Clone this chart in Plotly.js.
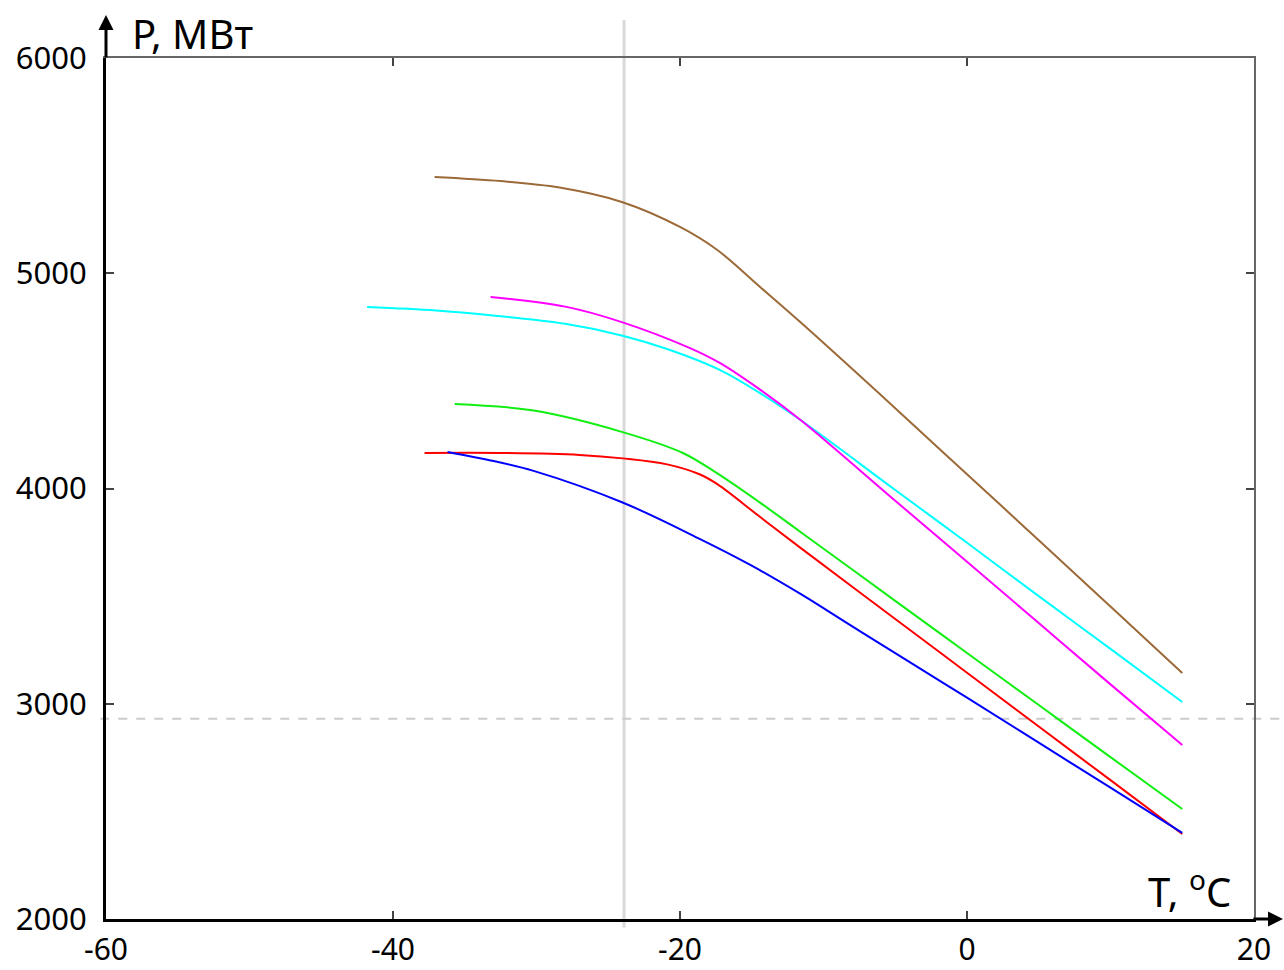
<!DOCTYPE html>
<html>
<head>
<meta charset="utf-8">
<script src="https://cdn.plot.ly/plotly-3.0.1.min.js"></script>
<style>html,body{margin:0;padding:0;background:#fff;}#chart{width:1284px;height:970px;}</style>
</head>
<body>
<div id="chart"></div>
<script>
// Temperature (°C) and power (MW)
const brownT = [-37.1, -32.5, -28.4, -24.0, -20.0, -17.4, -14.4, -11.6, -5.0, 0.0, 5.0, 10.0, 15.0];
const brownP = [5447, 5428, 5398, 5330, 5215, 5108, 4935, 4772, 4373, 4066, 3760, 3452, 3143];

const cyanT = [-41.8, -37.0, -33.2, -28.0, -24.0, -20.9, -17.2, -14.4, -11.6, -5.0, 0.0, 5.0, 10.0, 15.0];
const cyanP = [4843, 4827, 4805, 4765, 4710, 4648, 4550, 4442, 4318, 3993, 3748, 3500, 3255, 3008];

const magentaT = [-33.2, -28.0, -24.0, -19.3, -17.2, -14.4, -11.6, -5.0, 0.0, 5.0, 10.0, 15.0];
const magentaP = [4890, 4845, 4772, 4652, 4582, 4458, 4318, 3943, 3660, 3375, 3090, 2808];

const greenT = [-35.7, -30.2, -24.0, -19.8, -17.4, -14.5, -11.6, -5.0, 0.0, 5.0, 10.0, 15.0];
const greenP = [4393, 4362, 4262, 4165, 4070, 3938, 3798, 3478, 3236, 2994, 2752, 2511];

const redT = [-37.8, -32.5, -27.0, -24.0, -20.9, -18.6, -17.4, -14.5, -11.6, -5.0, 0.0, 5.0, 10.0, 15.0];
const redP = [4165, 4165, 4156, 4140, 4112, 4065, 4020, 3872, 3724, 3394, 3144, 2894, 2645, 2395];

const blueT = [-36.2, -33.0, -30.2, -24.0, -18.6, -15.1, -11.6, -8.3, -5.0, 0.0, 5.0, 10.0, 15.0];
const blueP = [4170, 4128, 4082, 3935, 3765, 3645, 3510, 3372, 3235, 3028, 2819, 2610, 2400];

const xTicks = [-60, -40, -20, 0, 20];
const yTicks = [2000, 3000, 4000, 5000, 6000];
const markerT = -23.9;   // vertical reference line
const markerP = 2930;    // dashed horizontal reference line

const FONT = '"Noto Sans", "Open Sans", sans-serif';

function curve(x, y, color) {
  return {x: x, y: y, type: 'scatter', mode: 'lines',
          line: {color: color, width: 2, shape: 'spline', smoothing: 1.0},
          showlegend: false, hoverinfo: 'skip'};
}

const traces = [
  curve(brownT, brownP, '#9c6a38'),
  curve(cyanT, cyanP, '#00ffff'),
  curve(magentaT, magentaP, '#ff00ff'),
  curve(greenT, greenP, '#11ee11'),
  curve(redT, redP, '#ff0000'),
  curve(blueT, blueP, '#0000ff'),
  {x: [null], y: [null], xaxis: 'x2', yaxis: 'y2', type: 'scatter', mode: 'lines', showlegend: false, hoverinfo: 'skip'}
];

const baseAxis = {
  ticks: 'inside', ticklen: 8, tickwidth: 2, tickcolor: '#444',
  showgrid: false, zeroline: false, showline: true, fixedrange: true
};

const layout = {
  width: 1284, height: 970,
  margin: {l: 106, r: 30, t: 58, b: 51, pad: 0},
  paper_bgcolor: '#ffffff', plot_bgcolor: '#ffffff',
  font: {family: FONT, color: '#000'},
  showlegend: false,
  xaxis: Object.assign({}, baseAxis, {
    range: [-60, 20], tickvals: xTicks, ticktext: xTicks.map(String),
    linecolor: '#000', linewidth: 3, tickfont: {size: 30, family: FONT, color: '#000'},
    ticklabelstandoff: 2
  }),
  yaxis: Object.assign({}, baseAxis, {
    range: [2000, 6000], tickvals: yTicks, ticktext: yTicks.map(String),
    linecolor: '#000', linewidth: 3, tickfont: {size: 31, family: FONT, color: '#000'},
    ticklabelstandoff: 10
  }),
  xaxis2: Object.assign({}, baseAxis, {
    overlaying: 'x', side: 'top', range: [-60, 20], tickvals: xTicks,
    showticklabels: false, linecolor: '#666', linewidth: 2
  }),
  yaxis2: Object.assign({}, baseAxis, {
    overlaying: 'y', side: 'right', range: [2000, 6000], tickvals: yTicks,
    showticklabels: false, linecolor: '#666', linewidth: 2
  }),
  shapes: [
    {type: 'line', xref: 'x', yref: 'paper', x0: markerT, x1: markerT, y0: -0.01, y1: 1.044,
     line: {color: '#d9d9d9', width: 3}, layer: 'below'},
    {type: 'line', xref: 'paper', yref: 'y', x0: -0.005, x1: 1.026, y0: markerP, y1: markerP,
     line: {color: '#cccccc', width: 2, dash: 'dash'}, layer: 'below'}
  ],
  annotations: [
    {xref: 'paper', yref: 'paper', x: 0, y: 1.05, ax: 0, ay: 44, axref: 'pixel', ayref: 'pixel',
     text: '', showarrow: true, arrowhead: 2, arrowsize: 1, arrowwidth: 3, arrowcolor: '#000'},
    {xref: 'paper', yref: 'paper', x: 1.026, y: 0, ax: -32, ay: 0, axref: 'pixel', ayref: 'pixel',
     text: '', showarrow: true, arrowhead: 2, arrowsize: 1, arrowwidth: 3, arrowcolor: '#000'},
    {xref: 'paper', yref: 'paper', x: 0.0209, y: 1.028, xanchor: 'left', yanchor: 'middle',
     text: 'P, МВт', showarrow: false, font: {size: 40, family: FONT, color: '#000'}},
    {xref: 'paper', yref: 'paper', x: 0.9817, y: 0.034, xanchor: 'right', yanchor: 'middle',
     text: 'T, <sup>o</sup>C', showarrow: false, font: {size: 40, family: FONT, color: '#000'}}
  ]
};

Plotly.newPlot('chart', traces, layout, {staticPlot: true, displayModeBar: false});
</script>
</body>
</html>
